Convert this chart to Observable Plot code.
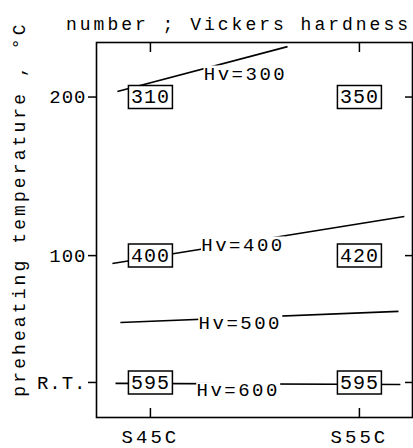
<!DOCTYPE html>
<html>
<head>
<meta charset="utf-8">
<script src="https://cdn.jsdelivr.net/npm/d3@7"></script>
<script src="https://cdn.jsdelivr.net/npm/@observablehq/plot@0.6"></script>
<style>
  html, body { margin: 0; padding: 0; background: white; }
  #chart svg { display: block; }
</style>
</head>
<body>
<div id="chart"></div>
<script>
// Categories (steel grades) placed at index positions 0 and 1
const steels = ["S45C", "S55C"];
// Y tick values (°C); room temperature plotted at 20
const yTickValues = [200, 100, 20];
const yTickLabels = ["200", "100", "R.T."];

// Boxed Vickers hardness numbers
const boxSteel = ["S45C", "S55C", "S45C", "S55C", "S45C", "S55C"];
const boxTemp = [200, 200, 100, 100, 20, 20];
const boxHv = [310, 350, 400, 420, 595, 595];

// Iso-hardness lines (x in steel index units, temperature in °C)
const hvLevels = ["Hv=300", "Hv=400", "Hv=500", "Hv=600"];
const lineStartX = [-0.158, -0.182, -0.144, -0.167];
const lineStartT = [203.5, 95, 57.8, 19.4];
const lineEndX = [0.656, 1.215, 1.187, 1.196];
const lineEndT = [231.8, 124.7, 64.8, 18.7];
const labelX = [0.455, 0.443, 0.43, 0.42];
const labelT = [214.8, 107, 57.5, 15];

const titleText = "number ; Vickers hardness";
const yLabelText = "preheating temperature , °C";

const boxes = boxHv.map((v, i) => ({x: steels.indexOf(boxSteel[i]), t: boxTemp[i], v}));
const lines = hvLevels.map((name, i) => ({
  name, x1: lineStartX[i], y1: lineStartT[i], x2: lineEndX[i], y2: lineEndT[i],
  lx: labelX[i], ly: labelT[i]
}));

const boxSymbol = {draw(ctx) { ctx.rect(-22, -11.5, 44, 23); }};
const labelBg = {draw(ctx) { ctx.rect(-42, -8, 84, 16); }};

const chart = Plot.plot({
  width: 413,
  height: 448,
  marginTop: 42,
  marginBottom: 31,
  marginLeft: 96,
  marginRight: 1,
  style: {fontFamily: "'Liberation Mono', monospace", fontSize: "19px", background: "white", color: "black"},
  x: {type: "linear", domain: [-0.258, 1.254]},
  y: {type: "linear", domain: [-2.1, 234.4]},
  marks: [
    Plot.frame({stroke: "black", strokeWidth: 1.6}),
    Plot.link(lines, {x1: "x1", y1: "y1", x2: "x2", y2: "y2", stroke: "black", strokeWidth: 1.6}),
    Plot.dot(lines, {x: "lx", y: "ly", symbol: labelBg, fill: "white", stroke: "none"}),
    Plot.text(lines, {x: "lx", y: "ly", text: "name", fill: "black", fontSize: 19}),
    Plot.dot(boxes, {x: "x", y: "t", symbol: boxSymbol, fill: "white", stroke: "black", strokeWidth: 1.5}),
    Plot.text(boxes, {x: "x", y: "t", text: d => String(d.v), fill: "black", fontSize: 20}),
    Plot.axisY({anchor: "left", ticks: yTickValues, tickFormat: d => yTickLabels[yTickValues.indexOf(d)], tickSize: 8, tickPadding: 2, label: null, strokeWidth: 1.5, fontSize: 19}),
    Plot.axisY({anchor: "right", ticks: yTickValues, tickFormat: () => "", tickSize: -8, label: null, strokeWidth: 1.5}),
    Plot.axisX({anchor: "top", ticks: [0, 1], tickFormat: () => "", tickSize: -9, label: null, strokeWidth: 1.5}),
    Plot.axisX({anchor: "bottom", ticks: [0, 1], tickFormat: () => "", tickSize: -9, label: null, strokeWidth: 1.5}),
    Plot.axisX({anchor: "bottom", ticks: [0, 1], tickFormat: i => steels[i], tickSize: 0, tickPadding: 12, label: null, fontSize: 19}),
    Plot.text([titleText], {frameAnchor: "top", text: d => d, dx: -16, dy: -25, fontSize: 18, fill: "black"}),
    Plot.text([yLabelText], {frameAnchor: "left", textAnchor: "middle", text: d => d, rotate: -90, dx: -77, dy: -21, fontSize: 18, fill: "black"})
  ]
});

document.getElementById("chart").appendChild(chart);
// letter spacing by text content (typewriter look)
const spacingFor = t => {
  if (t === titleText) return 3;
  if (t === yLabelText) return 3.1;
  if (hvLevels.includes(t)) return 2.5;
  if (steels.includes(t)) return 3;
  if (yTickLabels.includes(t)) return 1;
  if (boxHv.map(String).includes(t)) return 1;
  return 0;
};
chart.querySelectorAll("text, tspan").forEach(el => {
  const s = spacingFor(el.textContent);
  if (s) {
    el.setAttribute("letter-spacing", s);
    el.style.letterSpacing = s + "px";
  }
});
</script>
</body>
</html>
